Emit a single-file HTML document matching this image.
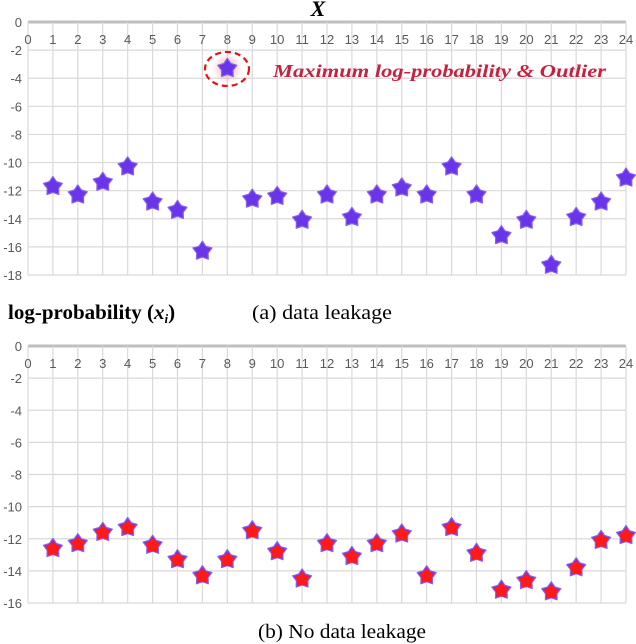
<!DOCTYPE html>
<html><head><meta charset="utf-8"><style>
body{margin:0;background:#fff;width:636px;height:644px;overflow:hidden}
svg{display:block}
</style></head><body>
<svg id="c" width="636" height="644" font-family="Liberation Sans, sans-serif">
<defs>
<radialGradient id="glow"><stop offset="0" stop-color="#f4a0a8" stop-opacity="0.9"/><stop offset="1" stop-color="#f4a0a8" stop-opacity="0"/></radialGradient>
</defs>
<text x="318" y="16" font-family="Liberation Serif, serif" font-weight="bold" font-style="italic" font-size="22" text-anchor="middle">X</text>
<g id="top"></g>
<g id="bot"></g>
<ellipse cx="227" cy="69" rx="22" ry="17" fill="none" stroke="#e81010" stroke-width="2.2" stroke-dasharray="6,4"/>
<text x="273" y="77" font-family="Liberation Serif, serif" font-weight="bold" font-style="italic" font-size="18" fill="#c8213f" textLength="333" lengthAdjust="spacingAndGlyphs">Maximum log-probability &amp; Outlier</text>
<text x="8" y="319" font-family="Liberation Serif, serif" font-weight="bold" font-size="21">log-probability (<tspan font-style="italic">x<tspan font-size="13" dy="4">i</tspan></tspan><tspan dy="-4">)</tspan></text>
<text x="252" y="319" font-family="Liberation Serif, serif" font-size="20" textLength="140" lengthAdjust="spacingAndGlyphs">(a) data leakage</text>
<text x="258" y="638" font-family="Liberation Serif, serif" font-size="20" textLength="168" lengthAdjust="spacingAndGlyphs">(b) No data leakage</text>
</svg>
<script>
const categories=[1,2,3,4,5,6,7,8,9,10,11,12,13,14,15,16,17,18,19,20,21,22,23,24];
const leakValues=[-11.7,-12.3,-11.4,-10.3,-12.8,-13.4,-16.3,-3.3,-12.6,-12.4,-14.1,-12.3,-13.9,-12.3,-11.8,-12.3,-10.3,-12.3,-15.2,-14.1,-17.3,-13.9,-12.8,-11.1];
const noLeakValues=[-12.6,-12.3,-11.6,-11.3,-12.4,-13.3,-14.3,-13.3,-11.5,-12.8,-14.5,-12.3,-13.1,-12.3,-11.7,-14.3,-11.3,-12.9,-15.2,-14.6,-15.3,-13.8,-12.1,-11.8];
const topTicks=[0,-2,-4,-6,-8,-10,-12,-14,-16,-18];
const botTicks=[0,-2,-4,-6,-8,-10,-12,-14,-16];
const NS='http://www.w3.org/2000/svg';
function mk(g,t,a){const e=document.createElementNS(NS,t);for(const k in a)e.setAttribute(k,a[k]);g.appendChild(e);return e;}
function starPts(cx,cy,R,r){let p=[];for(let i=0;i<10;i++){const a=-Math.PI/2+i*Math.PI/5;const rr=i%2?r:R;p.push((cx+rr*Math.cos(a)).toFixed(1)+','+(cy+rr*Math.sin(a)).toFixed(1));}return p.join(' ');}
function draw(gid,vals,ticks,y0,yMinV,yMinPx,mode){
  const g=document.getElementById(gid);
  const x=v=>28+v*(598/24);
  const y=v=>y0+(v/yMinV)*(yMinPx-y0);
  for(const t of ticks){
    const l=mk(g,'line',{x1:28,x2:626,y1:y(t),y2:y(t),stroke:t===0?'#bfbfbf':'#d9d9d9','stroke-width':t===0?3:1.2});
    
    
    const tx=mk(g,'text',{x:22,y:y(t)+5,'text-anchor':'end','font-size':13,fill:'#595959'});
    tx.textContent=t;
    
    
  }
  for(let i=0;i<=24;i++){
    const l=mk(g,'line',{x1:x(i),x2:x(i),y1:y(0),y2:y(ticks[ticks.length-1]),stroke:'#d9d9d9','stroke-width':1.2});
    
    
    const tx=mk(g,'text',{x:x(i),y:y(0)+22,'text-anchor':'middle','font-size':13,fill:'#595959'});
    tx.textContent=i;
    
    
  }
  vals.forEach((v,i)=>{
    const cx=x(categories[i]),cy=y(v);
    if(mode==='a'&&v>-5){const gl=mk(g,'circle',{cx:cx,cy:cy,r:15,fill:'url(#glow)'});}
    const s=mk(g,'polygon',{points:starPts(cx,cy,10,6),fill:'#6a35e8',stroke:'#8a60f0','stroke-width':1.2,'stroke-linejoin':'round'});
    
    
    if(mode==='b'){const d=mk(g,'polygon',{points:starPts(cx,cy+0.5,8,5.5),fill:'#ff1a1a'});}
  });
}
draw('top',leakValues,topTicks,22,-18,275,'a');
draw('bot',noLeakValues,botTicks,346,-16,603,'b');
</script>
</body></html>
